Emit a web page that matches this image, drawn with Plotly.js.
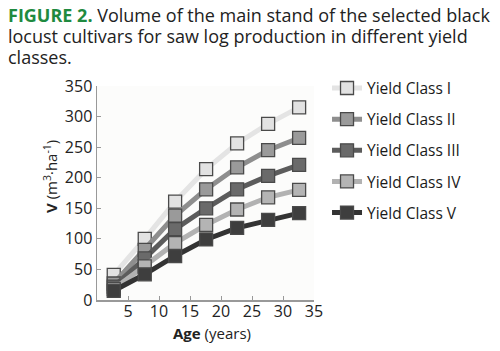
<!DOCTYPE html>
<html><head><meta charset="utf-8">
<script src="https://cdn.plot.ly/plotly-3.0.1.min.js"></script>
<style>html,body{margin:0;padding:0;background:#fff}#c{width:500px;height:351px}</style>
</head><body><div id="c"></div>
<script>
const ages = [2.7, 7.7, 12.6, 17.6, 22.6, 27.6, 32.6];
const classNames = ['Yield Class I','Yield Class II','Yield Class III','Yield Class IV','Yield Class V'];
const classI   = [41, 100, 161, 214, 256, 288, 315];
const classII  = [27, 82, 138, 181, 217, 245, 265];
const classIII = [22, 68, 116, 150, 181, 203, 221];
const classIV  = [18, 55, 93, 123, 148, 168, 180];
const classV   = [15, 42, 72, 99, 118, 131, 142];
const lineColors = ['#e4e4e4','#8e8e8e','#5c5c5c','#b2b2b2','#333333'];
const fillColors = ['#e2e2e2','#9a9a9a','#6a6a6a','#b4b4b4','#3e3e3e'];
const yTicks = [0,50,100,150,200,250,300,350];
const xTicks = [5,10,15,20,25,30,35];

const series = [classI, classII, classIII, classIV, classV];
const traces = series.map((ys, i) => ({
  x: ages, y: ys, name: classNames[i], type: 'scatter', mode: 'lines+markers',
  legendgroup: 'g' + i,
  line: {color: lineColors[i], width: 5},
  marker: {symbol: 'square', size: 13, color: fillColors[i], line: {color: '#4a4a4a', width: 1.3}}
}));

const font = 'Open Sans, Noto Sans, sans-serif';
const W = 217, H = 214; // plot size in px, for paper-coordinate placement of text
const layout = {
  width: 500, height: 351,
  margin: {l: 97, r: 186, t: 86, b: 51},
  paper_bgcolor: '#ffffff', plot_bgcolor: '#fcfcfb',
  font: {family: font, color: '#222', size: 16},
  showlegend: true,
  legend: {x: 1.06, xanchor: 'left', y: 1.068, yanchor: 'top', tracegroupgap: 8,
           font: {size: 15.5, color: '#1a1a1a', family: font}, bgcolor: 'rgba(0,0,0,0)', itemwidth: 30},
  xaxis: {range: [0, 35], tickvals: xTicks, ticks: 'inside', ticklen: 4, tickcolor: '#999',
          showline: true, linecolor: '#999', linewidth: 1.5, showgrid: false, zeroline: false,
          ticklabelstandoff: -4,
          tickfont: {size: 16, color: '#222'}},
  yaxis: {range: [0, 350], tickvals: yTicks, ticks: 'inside', ticklen: 4, tickcolor: '#999',
          showline: true, linecolor: '#999', linewidth: 1.5, showgrid: false, zeroline: false,
          ticklabelstandoff: 0,
          tickfont: {size: 16, color: '#222'}},
  annotations: [
    {xref: 'paper', yref: 'paper', x: -91/W, xanchor: 'left', y: 1 + (86 - 1)/H, yanchor: 'top', showarrow: false,
     align: 'left', font: {size: 18, color: '#222', family: font},
     text: '<b><span style="color:#1f8a3f">FIGURE 2.</span></b> Volume of the main stand of the selected black'},
    {xref: 'paper', yref: 'paper', x: -91/W, xanchor: 'left', y: 1 + (86 - 22)/H, yanchor: 'top', showarrow: false,
     align: 'left', font: {size: 18, color: '#222', family: font},
     text: 'locust cultivars for saw log production in different yield'},
    {xref: 'paper', yref: 'paper', x: -91/W, xanchor: 'left', y: 1 + (86 - 43)/H, yanchor: 'top', showarrow: false,
     align: 'left', font: {size: 18, color: '#222', family: font},
     text: 'classes.'},
    {xref: 'paper', yref: 'paper', x: (211.5 - 97)/W, xanchor: 'center', y: -(333 - 300)/H, yanchor: 'middle', showarrow: false,
     font: {size: 15, color: '#222', family: font}, text: '<b>Age</b> (years)'},
    {xref: 'paper', yref: 'paper', x: -(97 - 50)/W, xanchor: 'center', y: (300 - 177)/H, yanchor: 'middle', showarrow: false,
     textangle: -90, font: {size: 15, color: '#222', family: font}, text: '<b>V</b> (m<sup>3</sup>·ha<sup>-1</sup>)'}
  ]
};
Plotly.newPlot('c', traces, layout, {displayModeBar: false, staticPlot: true});
</script></body></html>
